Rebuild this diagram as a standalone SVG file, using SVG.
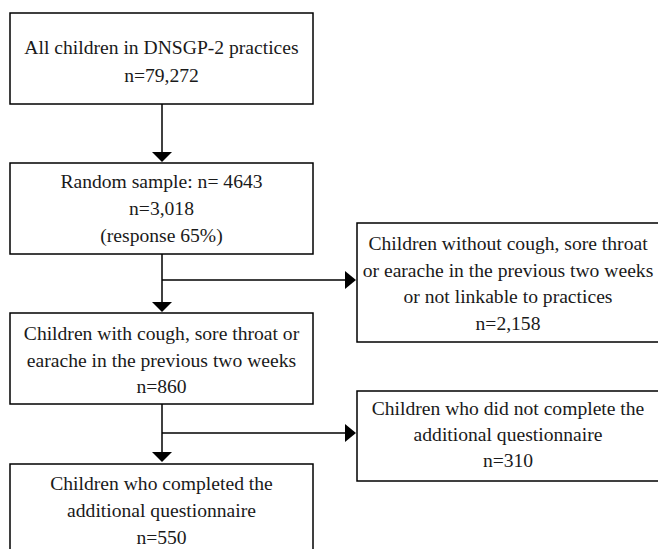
<svg xmlns="http://www.w3.org/2000/svg" width="658" height="549" viewBox="0 0 658 549">
<style>
.box{fill:#fff;stroke:#000;stroke-width:1.5}
.t{font-family:"Liberation Serif","DejaVu Serif",serif;font-size:19.6px;fill:#1a1a1a;text-anchor:middle}
.ln{stroke:#000;stroke-width:1.5;fill:none}
.ah{fill:#000}
</style>
<rect width="658" height="549" fill="#fff"/>
<g id="connectors">
<line class="ln" x1="162" y1="104" x2="162" y2="153"/>
<polygon class="ah" points="152,152 172,152 162,162"/>
<line class="ln" x1="162" y1="254" x2="162" y2="303"/>
<polygon class="ah" points="152,302 172,302 162,312"/>
<line class="ln" x1="162" y1="404" x2="162" y2="453"/>
<polygon class="ah" points="152,452 172,452 162,462"/>
<line class="ln" x1="162" y1="280" x2="346" y2="280"/>
<polygon class="ah" points="345,271 345,289 356,280"/>
<line class="ln" x1="162" y1="433" x2="346" y2="433"/>
<polygon class="ah" points="345,424 345,442 356,433"/>
</g>
<g id="n1">
<rect class="box" x="10" y="13" width="303" height="91"/>
<text class="t" x="161.5" y="54">All children in DNSGP-2 practices</text>
<text class="t" x="161.5" y="82">n=79,272</text>
</g>
<g id="n2">
<rect class="box" x="10" y="163" width="303" height="91"/>
<text class="t" x="161.5" y="188">Random sample: n= 4643</text>
<text class="t" x="161.5" y="215">n=3,018</text>
<text class="t" x="161.5" y="242">(response 65%)</text>
</g>
<g id="n3">
<rect class="box" x="10" y="313" width="303" height="91"/>
<text class="t" x="161.5" y="340">Children with cough, sore throat or</text>
<text class="t" x="161.5" y="367">earache in the previous two weeks</text>
<text class="t" x="161.5" y="393">n=860</text>
</g>
<g id="n4">
<rect class="box" x="10" y="464" width="303" height="95"/>
<text class="t" x="161.5" y="490">Children who completed the</text>
<text class="t" x="161.5" y="517">additional questionnaire</text>
<text class="t" x="161.5" y="544">n=550</text>
</g>
<g id="n5">
<rect class="box" x="357" y="223" width="303" height="119"/>
<text class="t" x="508" y="250">Children without cough, sore throat</text>
<text class="t" x="508" y="277">or earache in the previous two weeks</text>
<text class="t" x="508" y="303">or not linkable to practices</text>
<text class="t" x="508" y="330">n=2,158</text>
</g>
<g id="n6">
<rect class="box" x="357" y="391" width="303" height="90"/>
<text class="t" x="508" y="415">Children who did not complete the</text>
<text class="t" x="508" y="441">additional questionnaire</text>
<text class="t" x="508" y="467">n=310</text>
</g>
</svg>
